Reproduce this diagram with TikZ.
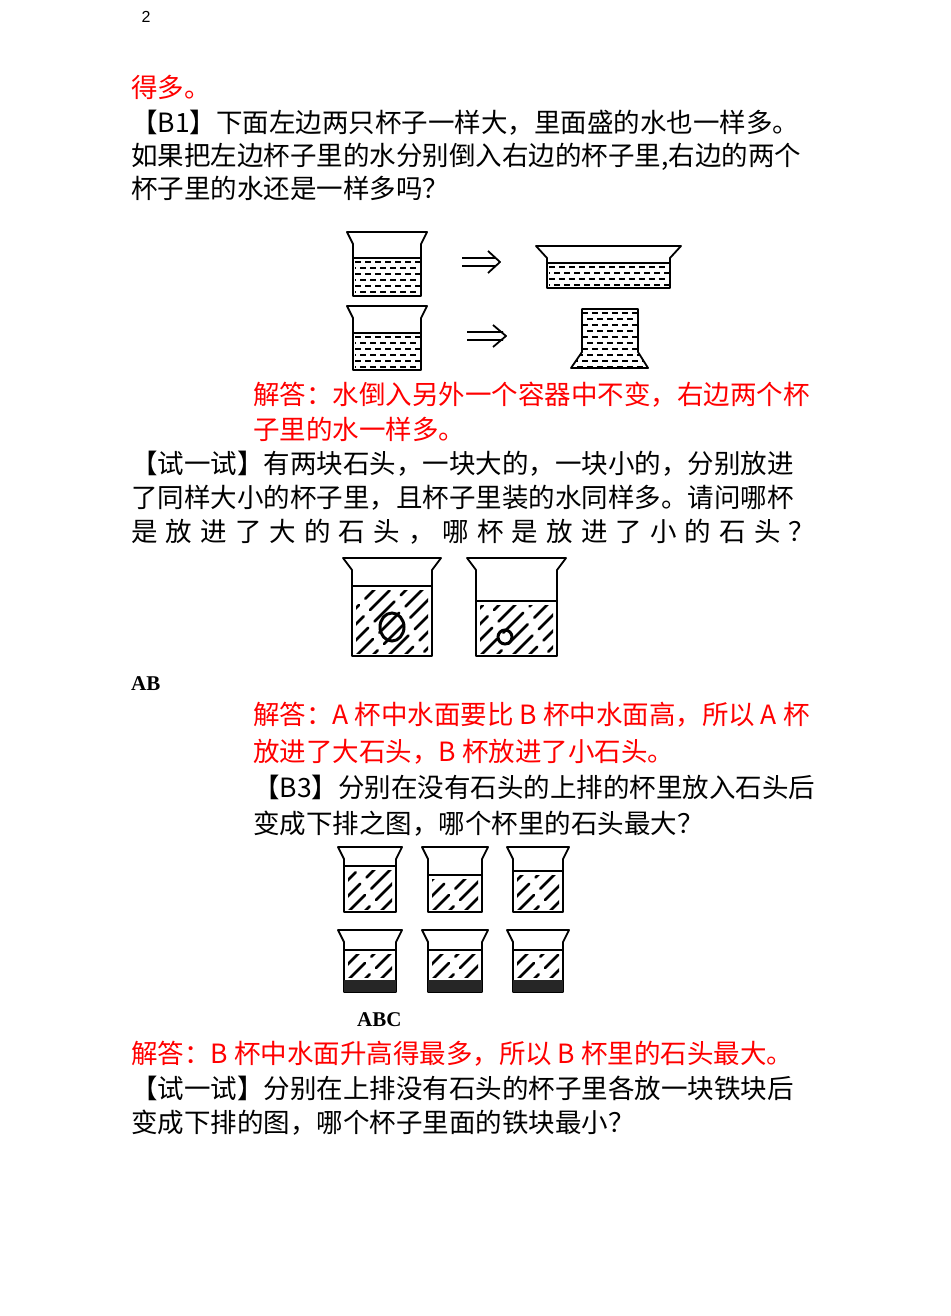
\documentclass[tikz,border=0pt]{standalone}
\usepackage{fontspec}
\setmainfont{Noto Sans CJK SC}
\newfontfamily\numfont{Liberation Sans}
\newfontfamily\bfont{Liberation Serif}
\tikzset{cup/.style={line width=1.8pt,line join=round},
 hatch/.style={line width=2.6pt,line cap=round,dash pattern=on 28pt off 9pt},
 wd/.style={line width=1.6pt,dash pattern=on 6pt off 4pt},
 txt/.style={anchor=base west,inner sep=0pt,font=\fontsize{26.5}{27}\selectfont},
 rtxt/.style={txt,text=red}}
% \beaker{x}{y}{w}{h}{wl}{flare}
\newcommand\beaker[6]{\begin{scope}[shift={(#1,#2)}]
 \draw[cup] (-#6,0)--({#3+#6},0)--(#3,12)--(#3,#4)--(0,#4)--(0,12)--cycle;
 \draw[cup] (0,#5)--(#3,#5);\end{scope}}
\newcommand\dashes[5]{\begin{scope}[shift={(#1,#2)}]
 \clip (1,#4) rectangle ({#3-1},#5);
 \foreach \y in {4,16,...,140} \draw[wd] (2,#4+\y)--(#3,#4+\y);
 \foreach \y in {10,22,...,140} \draw[wd,dash phase=5pt] (2,#4+\y)--(#3,#4+\y);
 \end{scope}}
\newcommand\hatches[5]{\begin{scope}[shift={(#1,#2)}]
 \clip (4,#4+4) rectangle ({#3-4},#5-3);
 \foreach \k in {-140,-124,...,120} \draw[hatch,dash phase=\k] (\k,#5)--++(90,-90);
 \end{scope}}
\begin{document}
\begin{tikzpicture}[x=1pt,y=-1pt]
\useasboundingbox (0,0) rectangle (950,1316);
\node[anchor=center,font=\numfont\fontsize{16}{16}\selectfont] (pg) at (146,17) {2};
\node[rtxt] (t1) at (131,98) {得多。};
\node[txt] (t2) at (131,133) {【B1】下面左边两只杯子一样大，里面盛的水也一样多。};
\node[txt] (t3) at (131,166) {如果把左边杯子里的水分别倒入右边的杯子里,右边的两个};
\node[txt] (t4) at (131,199) {杯子里的水还是一样多吗？};
% figure 1
\beaker{353}{232}{68}{64}{26}{6}
\dashes{353}{232}{68}{26}{64}
\beaker{353}{306}{68}{64}{27}{6}
\dashes{353}{306}{68}{27}{64}
\beaker{547}{246}{123}{42}{17}{11}
\dashes{547}{246}{123}{17}{42}
\draw[cup] (462,258)--(496,258) (462,266)--(496,266) (488,251)--(500,262)--(488,273);
\draw[cup] (467,332)--(503,332) (467,340)--(503,340) (493,325)--(506,336)--(493,347);
\draw[cup] (582,309)--(638,309)--(638,352)--(648,368)--(571,368)--(582,352)--cycle;
\begin{scope}
\clip (582,309)--(638,309)--(638,352)--(648,368)--(571,368)--(582,352)--cycle;
\foreach \y in {313,325,...,370} \draw[wd] (572,\y)--(648,\y);
\foreach \y in {319,331,...,370} \draw[wd,dash phase=5pt] (572,\y)--(648,\y);
\end{scope}
\node[rtxt] (a1) at (253,404) {解答：水倒入另外一个容器中不变，右边两个杯};
\node[rtxt] (a2) at (253,439) {子里的水一样多。};
\node[txt] (s1) at (131,473) {【试一试】有两块石头，一块大的，一块小的，分别放进};
\node[txt] (s2) at (131,507) {了同样大小的杯子里，且杯子里装的水同样多。请问哪杯};
\node[txt] (s3) at (131,541) {\makebox[684pt][s]{是\hfill 放\hfill 进\hfill 了\hfill 大\hfill 的\hfill 石\hfill 头\hfill ，\hfill 哪\hfill 杯\hfill 是\hfill 放\hfill 进\hfill 了\hfill 小\hfill 的\hfill 石\hfill 头\hfill ？}};
% stones
\beaker{352}{558}{80}{98}{28}{9}
\hatches{352}{558}{80}{28}{98}
\draw[line width=3pt] (392,627) ellipse (12 and 14);
\beaker{476}{558}{81}{98}{43}{9}
\hatches{476}{558}{81}{43}{98}
\draw[line width=3pt] (505,637) ellipse (7 and 7);
\node[anchor=base west,inner sep=0pt,font=\bfont\bfseries\fontsize{21}{21}\selectfont] (ab) at (131,690) {AB};
\node[rtxt] (a3) at (253,724) {解答：A 杯中水面要比 B 杯中水面高，所以 A 杯};
\node[rtxt] (a4) at (253,761) {放进了大石头，B 杯放进了小石头。};
\node[txt] (b3) at (253,797) {【B3】分别在没有石头的上排的杯里放入石头后};
\node[txt] (b4) at (253,833) {变成下排之图，哪个杯里的石头最大？};
% B3 cups
\beaker{344}{847}{52}{65}{19}{6}\hatches{344}{847}{52}{19}{65}
\beaker{428}{847}{54}{65}{28}{6}\hatches{428}{847}{54}{28}{65}
\beaker{513}{847}{50}{65}{24}{6}\hatches{513}{847}{50}{24}{65}
\foreach \x/\w in {344/52,428/54,513/50}{
 \beaker{\x}{930}{\w}{62}{20}{6}\hatches{\x}{930}{\w}{20}{50}
 \fill[black!85] (\x,980) rectangle ({\x+\w},992);}
\node[anchor=base west,inner sep=0pt,font=\bfont\bfseries\fontsize{21}{21}\selectfont] (abc) at (357,1026) {ABC};
\node[rtxt] (a5) at (131,1063) {解答：B 杯中水面升高得最多，所以 B 杯里的石头最大。};
\node[txt] (s4) at (131,1098) {【试一试】分别在上排没有石头的杯子里各放一块铁块后};
\node[txt] (s5) at (131,1132) {变成下排的图，哪个杯子里面的铁块最小？};
\end{tikzpicture}
\end{document}
